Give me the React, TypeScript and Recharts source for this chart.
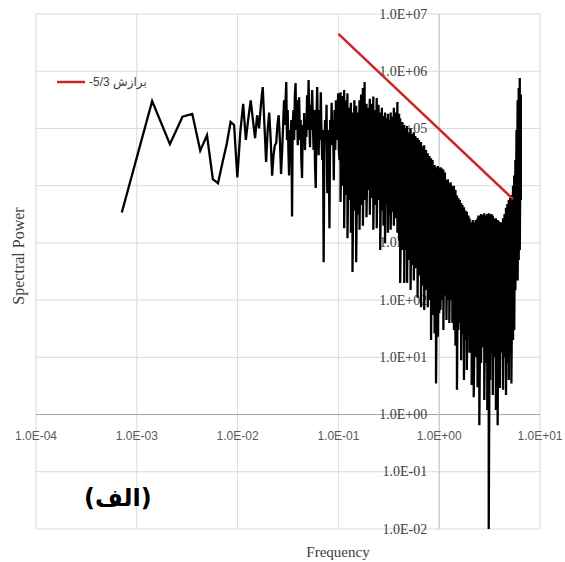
import React from "react";
import { LineChart, Line, XAxis, YAxis, CartesianGrid, ReferenceLine, Legend } from "recharts";

const W = 565;
const H = 562;
const margin = { top: 14, right: 25, bottom: 0, left: 0 };
const xAxisH = 33;
const yAxisW = 36;

const xTicks = [1e-4, 1e-3, 1e-2, 1e-1, 1, 10];
const yTicks = [1e-2, 1e-1, 1, 10, 1e2, 1e3, 1e4, 1e5, 1e6, 1e7];
const xDomain = [1e-4, 10];
const yDomain = [1e-2, 1e7];

// first FFT bins, one by one
const lowFreq = [
  0.00071, 0.00142, 0.00213, 0.00284, 0.00355, 0.00426, 0.00497, 0.00568, 0.00639, 0.0071,
  0.00781, 0.00852, 0.00923, 0.00994, 0.01065, 0.01136, 0.01207, 0.01278, 0.01349, 0.0142,
  0.01491, 0.01562, 0.01633, 0.01704, 0.01775, 0.01846, 0.01917, 0.01988, 0.02059, 0.0213,
  0.02201, 0.02272, 0.02343, 0.02414, 0.02485, 0.02556, 0.02627, 0.02698, 0.02769,
];
const lowPower = [
  3.4e3, 3.0e5, 5.3e4, 1.6e5, 1.8e5, 4.1e4, 7.6e4, 1.3e4, 1.1e4, 2.6e4,
  5.4e4, 1.3e5, 1.15e5, 1.4e4, 8.9e4, 2.7e5, 6.3e4, 1.5e5, 3.1e5, 1.4e5,
  6.8e4, 1.7e5, 1.0e5, 2.6e5, 5.3e5, 1.15e5, 2.6e4, 9.4e4, 1.9e5, 6.3e4,
  1.5e4, 3.4e4, 5.1e4, 5.5e4, 1.15e5, 1.7e5, 6.3e4, 1.6e4, 4.2e4,
];

// 0.03 - 0.1: spikes read point by point
const midFreq = [
  0.0284, 0.0289, 0.0294, 0.0299, 0.0304, 0.0309, 0.0314, 0.0319, 0.0324, 0.033,
  0.0335, 0.0341, 0.0347, 0.0352, 0.0358, 0.0364, 0.037, 0.0376, 0.0382, 0.0389,
  0.0395, 0.0402, 0.0408, 0.0415, 0.0422, 0.0429, 0.0436, 0.0443, 0.0451, 0.0458,
  0.0466, 0.0473, 0.0481, 0.0489, 0.0497, 0.0506, 0.0514, 0.0523, 0.0531, 0.054,
  0.0549, 0.0558, 0.0567, 0.0577, 0.0586, 0.0596, 0.0606, 0.0616, 0.0626, 0.0637,
  0.0647, 0.0658, 0.0669, 0.068, 0.0691, 0.0703, 0.0714, 0.0726, 0.0738, 0.0751,
  0.0763, 0.0776, 0.0789, 0.0802, 0.0815, 0.0829, 0.0843, 0.0857, 0.0871, 0.0885,
  0.09, 0.0915, 0.0931, 0.0946, 0.0962, 0.0978, 0.0994, 0.101, 0.1026,
];
const midPower = [
  1.4e5, 3.1e5, 1.15e5, 3.1e5, 6.5e5, 6.3e4, 2.1e5, 4.2e4, 1.5e4, 9.4e4,
  4.2e4, 1.4e5, 2.9e3, 1.15e5, 2.1e5, 6.3e4, 3.8e5, 6.2e5, 9.4e4, 3.1e5,
  5.1e4, 2.6e5, 3.5e5, 6.3e4, 1.4e5, 2.8e4, 1.36e4, 1.15e5, 6.3e4, 1.86e5,
  4.2e4, 1.4e5, 7.1e4, 3.8e5, 9.4e4, 7.0e5, 1.4e5, 4.7e4, 2.6e5, 9.4e4,
  4.7e5, 1.4e5, 4.2e4, 2.1e5, 2.3e4, 9.1e3, 1.4e5, 5.3e5, 9.4e4, 3.4e4,
  2.1e5, 6.3e4, 4.3e5, 7.6e4, 2.8e4, 9.4e4, 4.6e2, 4.2e4, 1.4e5, 6.3e4,
  2.6e5, 7.4e3, 9.4e4, 4.2e4, 1.8e3, 1.4e5, 6.3e4, 2.8e5, 5.1e4, 1.4e5,
  1.25e4, 2.1e5, 4.2e4, 3.1e5, 6.3e4, 1.4e5, 4.1e5, 4.2e4, 2.8e4,
];

// above 0.1 the trace is a solid band: peak and trough per frequency
const denseFreq = [
  0.105, 0.109, 0.114, 0.118, 0.123, 0.128, 0.133, 0.138, 0.144, 0.15,
  0.156, 0.162, 0.168, 0.175, 0.182, 0.19, 0.197, 0.205, 0.213, 0.222,
  0.231, 0.24, 0.25, 0.26, 0.27, 0.28, 0.29, 0.3, 0.31, 0.32,
  0.33, 0.345, 0.355, 0.37, 0.385, 0.4, 0.41, 0.43, 0.45, 0.46,
  0.48, 0.5, 0.52, 0.54, 0.56, 0.58, 0.61, 0.63, 0.66, 0.68,
  0.71, 0.74, 0.77, 0.8, 0.83, 0.86, 0.9, 0.93, 0.97, 1.0,
  1.03, 1.07, 1.1, 1.14, 1.18, 1.22, 1.26, 1.3, 1.35, 1.4,
  1.45, 1.5, 1.55, 1.6, 1.65, 1.7, 1.76, 1.82, 1.88, 1.95,
  2.0, 2.1, 2.15, 2.2, 2.3, 2.4, 2.45, 2.5, 2.6, 2.7,
  2.8, 2.9, 3.0, 3.1, 3.2, 3.3, 3.4, 3.5, 3.65, 3.8,
  3.9, 4.0, 4.15, 4.3, 4.45, 4.6, 4.75, 4.9, 5.05, 5.2,
  5.4, 5.55, 5.7, 5.85, 6.0, 6.15, 6.3, 6.45,
];
const densePeak = [
  4.3e5, 3.7e5, 4.7e5, 3.1e5, 4.1e5, 2.3e5, 2.8e5, 1.9e5, 3.1e5, 2.5e5,
  1.9e5, 3.1e5, 3.9e5, 5.1e5, 6.5e5, 2.7e5, 2.3e5, 3.3e5, 2.7e5, 3.6e5,
  2.1e5, 3.4e5, 2.6e5, 1.9e5, 2.3e5, 1.65e5, 1.9e5, 1.5e5, 1.8e5, 1.4e5,
  1.9e5, 1.6e5, 2.3e5, 1.9e5, 2.9e5, 1.8e5, 1.5e5, 1.3e5, 1.15e5, 1.0e5,
  1.1e5, 8.6e4, 1.0e5, 8.0e4, 8.6e4, 7.4e4, 6.8e4, 6.3e4, 5.8e4, 4.9e4,
  5.1e4, 4.2e4, 3.7e4, 3.3e4, 3.0e4, 2.8e4, 2.3e4, 2.1e4, 2.2e4, 2.0e4,
  2.1e4, 2.0e4, 1.9e4, 1.7e4, 1.25e4, 1.3e4, 1.1e4, 1.15e4, 1.0e4, 1.0e4,
  8.4e3, 6.7e3, 6.1e3, 5.6e3, 5.0e3, 4.6e3, 4.2e3, 3.7e3, 3.5e3, 3.0e3,
  2.7e3, 2.3e3, 2.5e3, 2.3e3, 2.5e3, 2.7e3, 3.0e3, 3.0e3, 3.2e3, 3.1e3,
  3.3e3, 3.0e3, 3.2e3, 3.3e3, 3.1e3, 3.2e3, 3.0e3, 2.7e3, 2.7e3, 2.5e3,
  2.4e3, 2.3e3, 2.3e3, 2.7e3, 3.2e3, 4.1e3, 4.8e3, 5.6e3, 6.1e3, 6.9e3,
  1.0e4, 1.5e4, 2.8e4, 9.4e4, 3.1e5, 5.1e5, 7.6e5, 3.9e5,
];
const denseTrough = [
  5.2e3, 1.0e4, 1.8e3, 6.9e3, 1.2e3, 5.6e3, 1.5e3, 310, 3.7e3, 460,
  3.1e3, 1.7e3, 4.6e3, 2.0e3, 5.6e3, 2.8e3, 8.4e3, 3.1e3, 6.1e3, 1.7e3,
  4.6e3, 1.8e3, 5.6e3, 750, 3.7e3, 2.0e3, 990, 4.6e3, 1.5e3, 3.1e3,
  1.7e3, 3.5e3, 2.0e3, 2.7e3, 1.5e3, 1.1e3, 200, 750, 200, 750,
  200, 500, 150, 410, 220, 360, 110, 270, 75, 180,
  67, 150, 75, 100, 20, 55, 26, 3.5, 23, 59,
  67, 100, 30, 120, 45, 100, 40, 100, 40, 30,
  16, 2.7, 30, 40, 8.9, 25, 4.0, 20, 6.0, 25,
  12, 3.3, 20, 2.0, 10, 3.0, 15, 0.65, 8, 15,
  1.8, 8, 1.2, 0.01, 4, 12, 2.2, 10, 1.2, 0.65,
  6, 2.9, 12, 2.7, 10, 2.2, 8, 4.0, 12, 3.5,
  20, 30, 150, 330, 220, 500, 750, 5600,
];

// -5/3 fit
const fitFreq = [0.1, 5.4];
const fitPower = [4.5e6, 5.8e3];

const spectrum = [
  ...lowFreq.map((f, i) => ({ f, p: lowPower[i] })),
  ...midFreq.map((f, i) => ({ f, p: midPower[i] })),
  ...denseFreq.flatMap((f, i) => [
    { f, p: densePeak[i] },
    { f, p: denseTrough[i] },
  ]),
];
const fit = fitFreq.map((f, i) => ({ f, p: fitPower[i] }));

const plotLeft = margin.left + yAxisW;
const plotW = W - plotLeft - margin.right;
const plotH = H - margin.top - margin.bottom - xAxisH;
// axes cross at 1 on both scales
const zeroX = plotLeft + (plotW * 4) / 5;
const zeroY = margin.top + (plotH * 7) / 9;

const serif = "'Liberation Serif', 'Times New Roman', serif";

const fmt = (v: number) => {
  const e = Math.round(Math.log10(v));
  return `1.0E${e < 0 ? "-" : "+"}${String(Math.abs(e)).padStart(2, "0")}`;
};

const XTick = (props: any) => (
  <text
    x={props.x}
    y={zeroY + 21}
    textAnchor="middle"
    dominantBaseline="central"
    fontFamily="'Liberation Sans', Arial, sans-serif"
    fontSize={12}
    fill="#595959"
  >
    {fmt(props.payload.value)}
  </text>
);

const YTick = (props: any) => (
  <text
    x={zeroX - 12}
    y={props.y}
    textAnchor="end"
    dominantBaseline="central"
    fontFamily={serif}
    fontSize={14}
    fill="#404040"
  >
    {fmt(props.payload.value)}
  </text>
);

const LegendBox = () => (
  <div style={{ display: "flex", alignItems: "center", height: 16 }}>
    <svg width={29} height={16}>
      <line x1={0} y1={8} x2={28} y2={8} stroke="#cc2529" strokeWidth={2.5} />
    </svg>
    <span
      style={{
        marginLeft: 3,
        fontFamily: "'Liberation Sans', 'DejaVu Sans', sans-serif",
        fontSize: 12,
        lineHeight: "16px",
        color: "#404040",
        whiteSpace: "nowrap",
      }}
    >
      -5/3 برازش
    </span>
  </div>
);

const layer: React.CSSProperties = { position: "absolute", left: 0, top: 0 };

export default function App() {
  return (
    <div style={{ position: "absolute", left: 0, top: 0, width: W, height: H, background: "#fff" }}>
      {/* back layer: grid, axes and tick labels (the trace is drawn over them) */}
      <div style={layer}>
        <LineChart width={W} height={H} margin={margin}>
          <CartesianGrid stroke="#d9d9d9" />
          <XAxis
            dataKey="f"
            type="number"
            scale="log"
            domain={xDomain}
            ticks={xTicks}
            interval={0}
            allowDataOverflow
            height={xAxisH}
            axisLine={false}
            tickLine={false}
            tick={<XTick />}
          />
          <YAxis
            dataKey="p"
            type="number"
            scale="log"
            domain={yDomain}
            ticks={yTicks}
            interval={0}
            allowDataOverflow
            width={yAxisW}
            axisLine={false}
            tickLine={false}
            tick={<YTick />}
          />
          <ReferenceLine y={1} stroke="#a6a6a6" />
          <ReferenceLine x={1} stroke="#c8c8c8" />
        </LineChart>
      </div>
      {/* front layer: series and legend */}
      <div style={layer}>
        <LineChart width={W} height={H} margin={margin}>
          <XAxis
            dataKey="f"
            type="number"
            scale="log"
            domain={xDomain}
            ticks={xTicks}
            allowDataOverflow
            height={xAxisH}
            axisLine={false}
            tickLine={false}
            tick={false}
          />
          <YAxis
            dataKey="p"
            type="number"
            scale="log"
            domain={yDomain}
            ticks={yTicks}
            allowDataOverflow
            width={yAxisW}
            axisLine={false}
            tickLine={false}
            tick={false}
          />
          <Line
            data={spectrum}
            dataKey="p"
            stroke="#000"
            strokeWidth={2.3}
            dot={false}
            type="linear"
            legendType="none"
            isAnimationActive={false}
          />
          <Line
            data={fit}
            dataKey="p"
            name="-5/3 برازش"
            stroke="#cc2529"
            strokeWidth={2.5}
            dot={false}
            type="linear"
            isAnimationActive={false}
          />
          <Legend
            layout="horizontal"
            verticalAlign="middle"
            align="center"
            wrapperStyle={{ left: 57, top: 74, width: 140, height: 16 }}
            content={() => <LegendBox />}
          />
        </LineChart>
      </div>
      <svg width={W} height={H} style={{ ...layer, pointerEvents: "none" }}>
        <text
          x={18}
          y={256}
          transform="rotate(-90 18 256)"
          textAnchor="middle"
          dominantBaseline="central"
          fontFamily={serif}
          fontSize={16}
          fill="#404040"
        >
          Spectral Power
        </text>
        <text
          x={338}
          y={552}
          textAnchor="middle"
          dominantBaseline="central"
          fontFamily={serif}
          fontSize={15}
          fill="#404040"
        >
          Frequency
        </text>
      </svg>
      <div
        style={{
          position: "absolute",
          left: 84,
          top: 483,
          fontFamily: "'DejaVu Sans', sans-serif",
          fontWeight: "bold",
          fontSize: 24,
          lineHeight: "30px",
          color: "#000",
        }}
      >
        (الف)
      </div>
    </div>
  );
}
